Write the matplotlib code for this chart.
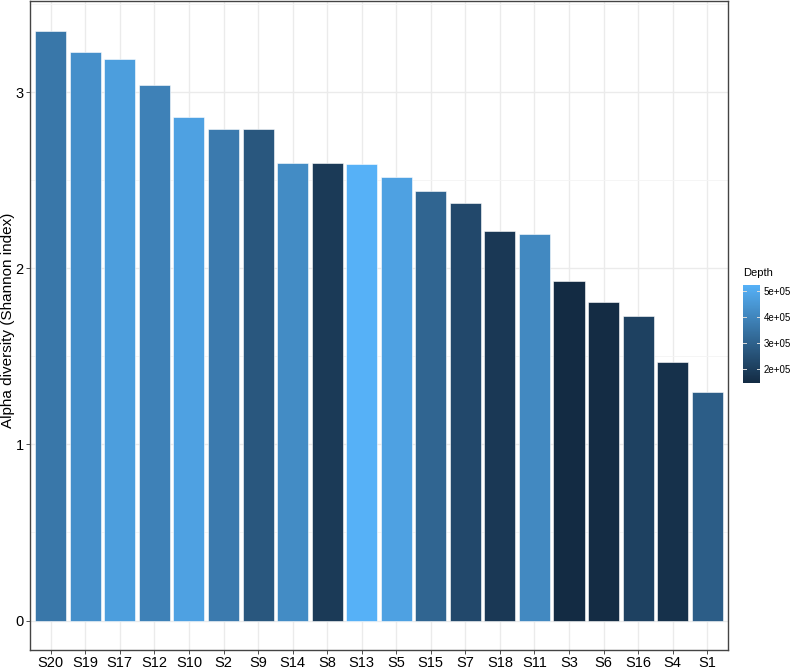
import matplotlib.pyplot as plt
import matplotlib as mpl
import numpy as np
from matplotlib.colors import LinearSegmentedColormap, Normalize

samples = ['S20', 'S19', 'S17', 'S12', 'S10', 'S2', 'S9', 'S14', 'S8', 'S13',
           'S5', 'S15', 'S7', 'S18', 'S11', 'S3', 'S6', 'S16', 'S4', 'S1']
shannon = [3.35, 3.23, 3.19, 3.04, 2.86, 2.79, 2.79, 2.60, 2.60, 2.59,
           2.52, 2.44, 2.37, 2.21, 2.195, 1.93, 1.81, 1.73, 1.47, 1.30]
depth = [3.6e5, 4.3e5, 4.7e5, 3.9e5, 4.8e5, 3.7e5, 2.7e5, 4.2e5, 1.9e5, 5.25e5,
         4.8e5, 3.1e5, 2.3e5, 1.85e5, 4.1e5, 1.47e5, 1.5e5, 2.1e5, 1.65e5, 2.9e5]
depth_ticks = [2e5, 3e5, 4e5, 5e5]
depth_labels = ['2e+05', '3e+05', '4e+05', '5e+05']

plt.rcParams['font.family'] = ['Liberation Sans', 'DejaVu Sans']

cmap = LinearSegmentedColormap.from_list('gg', ['#132B43', '#56B1F7'])
norm = Normalize(vmin=min(depth), vmax=max(depth))

W, H = 793, 671
fig = plt.figure(figsize=(W / 100, H / 100), dpi=100)
ax = fig.add_axes([30 / W, (H - 650) / H, (728 - 30) / W, (650 - 1) / H])

x = np.arange(len(samples))
ax.bar(x, shannon, width=0.9, color=cmap(norm(depth)), edgecolor='#ffffff',
       linewidth=0.4, zorder=3)

ymax = max(shannon)
ax.set_ylim(-0.05 * ymax, ymax * 1.05)
ax.set_xlim(-0.6, len(samples) - 0.4)
ax.set_xticks(x)
ax.set_xticklabels(samples)
ax.set_yticks([0, 1, 2, 3])
ax.set_yticks([0.5, 1.5, 2.5, 3.5], minor=True)
ax.grid(which='major', color='#ebebeb', linewidth=1.0, zorder=0)
ax.grid(which='minor', axis='y', color='#f4f4f4', linewidth=0.6, zorder=0)
ax.tick_params(axis='both', which='major', labelsize=10.5, colors='#333333',
               length=3, width=0.6, labelcolor='black', pad=1.5)
ax.tick_params(which='minor', length=0)
for s in ax.spines.values():
    s.set_color('#444444')
    s.set_linewidth(1.0)
fig.text(8 / W, (H - 320) / H, 'Alpha diversity (Shannon index)', fontsize=11,
         rotation=90, ha='center', va='center')

cax = fig.add_axes([743 / W, (H - 383) / H, 17 / W, 98 / H])
cb = mpl.colorbar.ColorbarBase(cax, cmap=cmap, norm=norm, orientation='vertical')
cb.set_ticks(depth_ticks)
cb.set_ticklabels(depth_labels)
cb.outline.set_visible(False)
cax.tick_params(labelsize=7, length=0, pad=2.5)
for t in depth_ticks:
    cax.plot([0, 0.2], [t, t], color='#dddddd', lw=0.7, transform=cax.get_yaxis_transform())
    cax.plot([0.8, 1.0], [t, t], color='#dddddd', lw=0.7, transform=cax.get_yaxis_transform())
fig.text(743 / W, (H - 273) / H, 'Depth', fontsize=8, va='center', ha='left')

fig.savefig('out.png', dpi=100)
